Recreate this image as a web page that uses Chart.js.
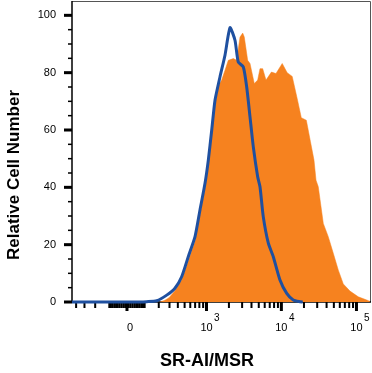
<!DOCTYPE html>
<html>
<head>
<meta charset="utf-8">
<script src="https://cdn.jsdelivr.net/npm/chart.js@4.4.1/dist/chart.umd.min.js"></script>
<style>
  html, body { margin: 0; padding: 0; background: #fff; }
  canvas { display: block; }
</style>
</head>
<body>
<canvas id="hist" width="372" height="373"></canvas>
<script>
// Histogramas (eixo x em unidades de exibição, décadas)
const isotipoX = [-0.772, 0.133, 0.222, 0.356, 0.489, 0.599, 0.688, 0.776, 0.866, 0.932, 0.999, 1.043, 1.088, 1.132, 1.198, 1.265, 1.332, 1.398, 1.442, 1.509, 1.554, 1.598, 1.642, 1.700, 1.731, 1.775, 1.842, 1.908, 1.997, 2.087, 2.174, 2.264, 2.300];
const isotipoY = [0, 0, 0.1, 0.45, 2.4, 4.8, 8.8, 15.8, 22.8, 32.1, 41.4, 49.5, 59.9, 70.4, 78.5, 86.1, 95.7, 91.3, 83.7, 82.0, 75.0, 64.6, 54.1, 43.7, 40.2, 29.7, 20.5, 15.8, 7.7, 3.0, 0.7, 0.1, 0];

const marcadoX = [0.399, 0.466, 0.520, 0.599, 0.688, 0.776, 0.866, 0.932, 0.999, 1.043, 1.088, 1.132, 1.180, 1.221, 1.265, 1.309, 1.376, 1.421, 1.465, 1.501, 1.522, 1.567, 1.598, 1.655, 1.700, 1.731, 1.767, 1.811, 1.883, 1.944, 2.027, 2.093, 2.160, 2.226, 2.281, 2.348, 2.403, 2.450, 2.477, 2.507, 2.574, 2.640, 2.707, 2.774, 2.840, 2.929, 3.040, 3.152, 3.196];
const marcadoY = [0, 0.6, 1.5, 3.9, 7.8, 14.3, 21.2, 30.3, 39.6, 47.8, 58.2, 68.5, 75.5, 77.4, 80.8, 84.3, 84.9, 84.3, 92.4, 93.8, 92.4, 84.3, 83.2, 76.2, 77.4, 81.4, 81.4, 77.4, 80.2, 79.7, 83.2, 80.0, 78.7, 71.0, 64.3, 63.4, 55.9, 49.5, 42.5, 40.2, 27.4, 22.8, 17.0, 11.1, 6.3, 3.8, 1.8, 0.7, 0.2];

// Ticks
const yMajores = [0, 20, 40, 60, 80, 100];
const yMenores = [5, 10, 15, 25, 30, 35, 45, 50, 55, 65, 70, 75, 85, 90, 95];
const xMajores = [0, 1000, 10000, 100000];
const xRotulos = [['0', ''], ['10', '3'], ['10', '4'], ['10', '5']];
const xMenores = [-400, -300, -200, -100, -90, -80, -70, -60, -50, -40, -30, -20, -10, 10, 20, 30, 40, 50, 60, 70, 80, 90,
  100, 200, 300, 400, 500, 600, 700, 800, 900, 2000, 3000, 4000, 5000, 6000, 7000, 8000, 9000,
  20000, 30000, 40000, 50000, 60000, 70000, 80000, 90000];

// Escala tipo logicle (aproximação por asinh)
function exibicao(v) {
  return -0.04 + Math.asinh(v / 176) / Math.LN10;
}

const laranja = '#F6821F';
const azul = '#1F50A0';
const fonte = '"Liberation Sans", Arial, sans-serif';

const decoracao = {
  id: 'decoracao',
  beforeDatasetsDraw(chart) {
    const ctx = chart.ctx;
    const a = chart.chartArea;
    const sx = chart.scales.x;
    const sy = chart.scales.y;
    ctx.save();

    // moldura
    ctx.strokeStyle = '#555';
    ctx.lineWidth = 1;
    ctx.beginPath();
    ctx.moveTo(a.left, a.top + 0.5);
    ctx.lineTo(a.right - 0.5, a.top + 0.5);
    ctx.lineTo(a.right - 0.5, a.bottom);
    ctx.stroke();

    // eixos
    ctx.strokeStyle = '#000';
    ctx.lineWidth = 1.5;
    ctx.beginPath();
    ctx.moveTo(a.left, a.top);
    ctx.lineTo(a.left, a.bottom);
    ctx.lineTo(a.right, a.bottom);
    ctx.stroke();

    // ticks y
    ctx.fillStyle = '#000';
    yMajores.forEach(v => {
      const y = sy.getPixelForValue(v);
      ctx.fillRect(a.left - 8, y - 1.5, 8, 3);
    });
    yMenores.forEach(v => {
      const y = sy.getPixelForValue(v);
      ctx.fillRect(a.left - 4, y - 0.75, 4, 1.5);
    });
    ctx.font = '11px ' + fonte;
    ctx.textAlign = 'right';
    ctx.textBaseline = 'middle';
    yMajores.forEach(v => {
      ctx.fillText(String(v), a.left - 16, sy.getPixelForValue(v));
    });

    // ticks x
    xMajores.forEach(v => {
      const x = sx.getPixelForValue(exibicao(v));
      ctx.fillRect(x - 1.5, a.bottom, 3, 9);
    });
    xMenores.forEach(v => {
      const x = sx.getPixelForValue(exibicao(v));
      if (x > a.left + 2 && x < a.right) ctx.fillRect(x - 1, a.bottom, 2, 6);
    });
    xMajores.forEach((v, i) => {
      const x = sx.getPixelForValue(exibicao(v));
      const [base, exp] = xRotulos[i];
      ctx.font = '11px ' + fonte;
      ctx.textAlign = 'center';
      ctx.fillText(base, i === 0 ? x + 3 : x, 328);
      if (exp) {
        const w = ctx.measureText(base).width;
        ctx.textAlign = 'left';
        ctx.font = '10px ' + fonte;
        ctx.fillText(exp, x + w / 2 + 1.5, 318);
      }
    });

    // títulos
    ctx.font = 'bold 18px ' + fonte;
    ctx.textAlign = 'center';
    ctx.fillText('SR-AI/MSR', 207, 361);
    ctx.save();
    ctx.translate(14, 175);
    ctx.rotate(-Math.PI / 2);
    ctx.font = 'bold 17px ' + fonte;
    ctx.fillText('Relative Cell Number', 0, 0);
    ctx.restore();

    ctx.restore();
  }
};

new Chart(document.getElementById('hist'), {
  type: 'scatter',
  data: {
    datasets: [
      {
        label: 'SR-AI/MSR',
        data: marcadoX.map((x, i) => ({ x, y: marcadoY[i] })),
        showLine: true,
        fill: 'origin',
        backgroundColor: laranja,
        borderColor: laranja,
        borderWidth: 0.5,
        pointRadius: 0,
        tension: 0,
        order: 2
      },
      {
        label: 'Isotipo',
        data: isotipoX.map((x, i) => ({ x, y: isotipoY[i] })),
        showLine: true,
        fill: false,
        borderColor: azul,
        borderWidth: 3,
        pointRadius: 0,
        tension: 0.2,
        clip: false,
        order: 1
      }
    ]
  },
  options: {
    responsive: false,
    animation: false,
    devicePixelRatio: 1,
    layout: { padding: { left: 72, right: 1, top: 1, bottom: 71 } },
    plugins: { legend: { display: false }, tooltip: { enabled: false } },
    scales: {
      x: { type: 'linear', min: -0.772, max: 3.209, display: false },
      y: { type: 'linear', min: 0, max: 105, display: false }
    }
  },
  plugins: [decoracao]
});
</script>
</body>
</html>
